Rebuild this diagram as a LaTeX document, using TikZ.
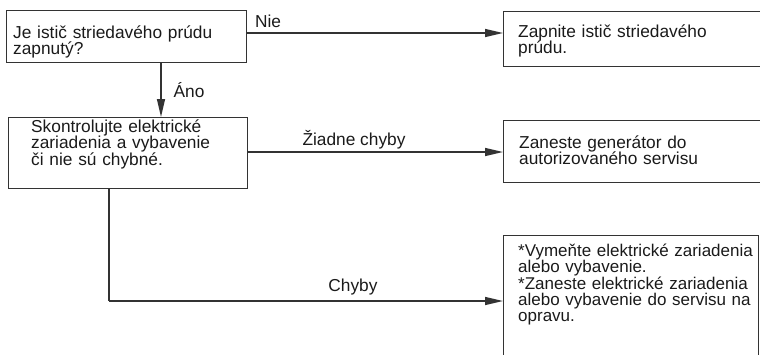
\documentclass[tikz,border=0pt]{standalone}
\usepackage{fontspec}
\setmainfont{Liberation Sans}
\usetikzlibrary{arrows.meta}
\definecolor{ln}{HTML}{333333}
\definecolor{tx}{HTML}{1A1A1A}
\tikzset{
  box/.style={draw=ln, line width=1.4pt, inner sep=0pt, anchor=north west},
  txt/.style={anchor=base west, inner sep=0pt, text width=250pt, align=left, text=tx,
     font=\fontsize{17.3pt}{16.5pt}\selectfont},
  lbl/.style={inner sep=0pt, text=tx, font=\fontsize{17.3pt}{17pt}\selectfont},
  arr/.style={draw=ln, line width=1.4pt, -{Triangle[length=18pt,width=8pt]}},
  ln/.style={draw=ln, line width=1.4pt}
}
\begin{document}
\begin{tikzpicture}[x=1pt,y=-1pt]
\useasboundingbox (0,0) rectangle (760,354);
% boxes
\node[box, minimum width=240pt, minimum height=52pt] (b1) at (6,10) {};
\node[box, minimum width=290pt, minimum height=55pt] (b2) at (503,11) {};
\node[box, minimum width=239pt, minimum height=71pt] (b3) at (8,117) {};
\node[box, minimum width=290pt, minimum height=62pt] (b4) at (503,120) {};
\node[box, minimum width=255pt, minimum height=140pt] (b5) at (503,235) {};
% texts
\node[txt] (t1) at (13,38) {Je istič striedavého prúdu\\zapnutý?};
\node[txt] (t2) at (518,37) {Zapnite istič striedavého\\prúdu.};
\node[txt] (t3) at (31,132) {Skontrolujte elektrické\\zariadenia a vybavenie\\či nie sú chybné.};
\node[txt] (t4) at (519,148) {Zaneste generátor do\\autorizovaného servisu};
\node[txt, font=\fontsize{17pt}{15.9pt}\selectfont] (t5) at (518,256.5) {*Vymeňte elektrické zariadenia\\alebo vybavenie.\\{}*Zaneste elektrické zariadenia\\alebo vybavenie do servisu na\\opravu.};
% connectors
\draw[arr] (b1.east |- 0,33) -- (b2.west |- 0,33);
\draw[arr] (b1.south -| 161,0) -- (b3.north -| 161,0);
\draw[arr] (b3.east |- 0,152) -- (b4.west |- 0,152);
\coordinate (c1) at (109,301);
\draw[ln] (b3.south -| c1) -- (c1);
\draw[arr] (c1) -- (b5.west |- c1);
% labels
\node[lbl] (l1) at (268,21) {Nie};
\node[lbl] (l2) at (189,90) {Áno};
\node[lbl] (l3) at (354,140) {Žiadne chyby};
\node[lbl] (l4) at (353,287) {Chyby};
\end{tikzpicture}
\end{document}
